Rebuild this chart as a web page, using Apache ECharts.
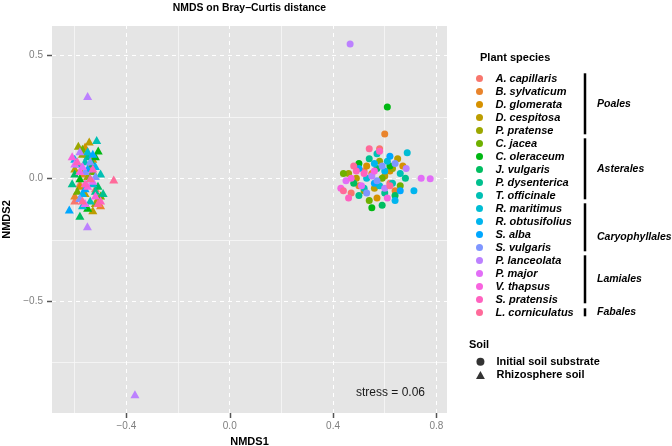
<!DOCTYPE html>
<html>
<head>
<meta charset="utf-8">
<script src="https://cdn.jsdelivr.net/npm/echarts@6/dist/echarts.min.js"></script>
<style>html,body{margin:0;padding:0;background:#fff}#c{width:672px;height:446px}</style>
</head>
<body>
<div id="c"></div>
<script>
// ---------------- data ----------------
const species = ['A. capillaris','B. sylvaticum','D. glomerata','D. cespitosa','P. pratense',
  'C. jacea','C. oleraceum','J. vulgaris','P. dysenterica','T. officinale',
  'R. maritimus','R. obtusifolius','S. alba','S. vulgaris',
  'P. lanceolata','P. major','V. thapsus','S. pratensis','L. corniculatus'];
const orders = ['Poales','Asterales','Caryophyllales','Lamiales','Fabales'];
const orderCounts = [5,5,4,4,1];
const soilTypes = ['Initial soil substrate','Rhizosphere soil'];
const xTicks = [-0.4, 0, 0.4, 0.8];
const yTicks = [-0.5, 0, 0.5];
const xMinor = [-0.6, -0.2, 0.2, 0.6];
const yMinor = [-0.75, -0.25, 0.25];
const stressValue = 0.06;
// NMDS scores, initial soil substrate (circles), per species
const initialSubstrate = [
  [[0.47,-0.06],[0.58,0.12],[0.62,-0.02],[0.52,0.03]],
  [[0.60,0.18],[0.55,0.02],[0.64,-0.05],[0.50,-0.03]],
  [[0.67,0.05],[0.57,-0.08],[0.53,0.05],[0.62,0.03]],
  [[0.65,0.08],[0.56,-0.04],[0.60,0.01],[0.49,0.00]],
  [[0.63,0.04],[0.52,-0.05],[0.58,0.07],[0.46,0.02]],
  [[0.44,0.02],[0.59,0.00],[0.66,-0.03],[0.54,-0.09]],
  [[0.61,0.29],[0.55,-0.12],[0.62,0.05],[0.50,0.06]],
  [[0.57,0.04],[0.64,-0.07],[0.48,-0.02],[0.59,-0.11]],
  [[0.68,0.00],[0.54,0.08],[0.60,-0.06],[0.50,-0.07]],
  [[0.57,0.10],[0.63,-0.02],[0.52,-0.04],[0.66,0.02]],
  [[0.687,0.104],[0.58,-0.03],[0.53,0.00],[0.61,0.07]],
  [[0.713,-0.05],[0.60,0.03],[0.56,0.06],[0.64,-0.09]],
  [[0.56,-0.02],[0.62,0.09],[0.50,0.04],[0.66,-0.05]],
  [[0.59,0.05],[0.53,-0.06],[0.64,0.06],[0.57,-0.01]],
  [[0.466,0.547],[0.683,0.04],[0.55,0.01],[0.60,-0.04]],
  [[0.741,0.00],[0.776,-0.002],[0.45,-0.01],[0.51,-0.03]],
  [[0.43,-0.04],[0.47,0.00],[0.56,0.03],[0.61,-0.08]],
  [[0.46,-0.08],[0.52,0.02],[0.58,0.11],[0.49,0.03]],
  [[0.44,-0.05],[0.54,0.12],[0.62,-0.03],[0.48,0.05]]
];
// NMDS scores, rhizosphere soil (triangles), per species
const rhizosphere = [
  [[-0.58,-0.02],[-0.54,0.05],[-0.60,-0.09],[-0.52,-0.04]],
  [[-0.60,-0.07],[-0.55,0.10],[-0.50,-0.11],[-0.57,0.02]],
  [[-0.56,0.13],[-0.58,-0.03],[-0.51,-0.08],[-0.53,0.08]],
  [[-0.544,0.15],[-0.60,0.04],[-0.53,-0.13],[-0.56,-0.06]],
  [[-0.586,0.133],[-0.57,0.10],[-0.52,-0.10],[-0.55,0.01]],
  [[-0.57,0.12],[-0.53,0.03],[-0.59,-0.05],[-0.50,-0.07]],
  [[-0.509,0.113],[-0.52,0.09],[-0.55,-0.12],[-0.58,0.00]],
  [[-0.58,-0.152],[-0.53,0.06],[-0.60,0.02],[-0.51,-0.03]],
  [[-0.55,0.09],[-0.52,-0.05],[-0.61,-0.02],[-0.49,-0.06]],
  [[-0.515,0.156],[-0.56,0.07],[-0.50,0.02],[-0.54,-0.09]],
  [[-0.55,0.11],[-0.59,0.06],[-0.53,-0.02],[-0.57,-0.11]],
  [[-0.60,0.08],[-0.54,0.00],[-0.57,-0.06],[-0.52,0.05]],
  [[-0.621,-0.127],[-0.55,0.04],[-0.56,-0.04],[-0.53,0.10]],
  [[-0.54,0.07],[-0.56,0.03],[-0.52,0.01],[-0.58,-0.08]],
  [[-0.55,0.335],[-0.551,-0.195],[-0.367,-0.879],[-0.58,0.11]],
  [[-0.60,0.06],[-0.56,-0.10],[-0.53,-0.01],[-0.57,0.05]],
  [[-0.61,0.09],[-0.55,-0.03],[-0.52,-0.07],[-0.58,0.03]],
  [[-0.59,0.07],[-0.50,-0.09],[-0.56,-0.02],[-0.53,0.04]],
  [[-0.449,-0.005],[-0.57,-0.09],[-0.51,-0.10],[-0.54,0.00]]
];

// ---------------- styling helpers ----------------
function hcl2hex(h, c, l) {
  const hr = h * Math.PI / 180;
  const u = c * Math.cos(hr), v = c * Math.sin(hr);
  const Xn = 95.047, Yn = 100, Zn = 108.883;
  const d = Xn + 15 * Yn + 3 * Zn;
  const un = 4 * Xn / d, vn = 9 * Yn / d;
  const Y = Yn * Math.pow((l + 16) / 116, 3);
  const up = u / (13 * l) + un, vp = v / (13 * l) + vn;
  const X = Y * 9 * up / (4 * vp);
  const Z = Y * (12 - 3 * up - 20 * vp) / (4 * vp);
  const lin = [
    ( 3.2404542 * X - 1.5371385 * Y - 0.4985314 * Z) / 100,
    (-0.9692660 * X + 1.8760108 * Y + 0.0415560 * Z) / 100,
    ( 0.0556434 * X - 0.2040259 * Y + 1.0572252 * Z) / 100
  ];
  return '#' + lin.map(x => {
    let g = x <= 0.0031308 ? 12.92 * x : 1.055 * Math.pow(x, 1 / 2.4) - 0.055;
    g = Math.max(0, Math.min(1, g));
    return Math.round(g * 255).toString(16).padStart(2, '0');
  }).join('');
}
// ggplot hue palette: hues = seq(15, 375, length = n+1)[1:n], c = 100, l = 65
const colors = species.map((s, i) => hcl2hex(15 + i * 360 / species.length, 100, 65));

const fmt = v => (Math.abs(v) < 1e-9 ? '0.0' : v.toFixed(1)).replace('-', '\u2212');
const FONT = 'Liberation Sans, Arial, sans-serif';
const X_MIN = -0.688, X_MAX = 0.841, Y_MIN = -0.955, Y_MAX = 0.62;
const G = {left: 52, top: 26, width: 395, height: 387};

const gridLines = [];
xMinor.forEach(v => gridLines.push({xAxis: v, lineStyle: {color: '#f7f7f7', width: 0.8, type: 'solid'}}));
yMinor.forEach(v => gridLines.push({yAxis: v, lineStyle: {color: '#f7f7f7', width: 0.8, type: 'solid'}}));
xTicks.forEach(v => gridLines.push({xAxis: v, lineStyle: {color: '#ffffff', width: 1, type: [4, 4]}}));
yTicks.forEach(v => gridLines.push({yAxis: v, lineStyle: {color: '#ffffff', width: 1, type: [4, 4]}}));

const series = [{
  type: 'scatter', name: '__grid', data: [], z: 1, silent: true,
  markLine: {silent: true, z: 1, symbol: 'none', label: {show: false}, animation: false, data: gridLines}
}];
species.forEach((s, i) => {
  const data = initialSubstrate[i].map(p => ({value: p, symbol: 'circle', symbolSize: 7}))
    .concat(rhizosphere[i].map(p => ({value: p, symbol: 'triangle', symbolSize: [9, 8]})));
  series.push({type: 'scatter', name: s, data: data, z: 3, itemStyle: {color: colors[i], opacity: 1}});
});
soilTypes.forEach(s => series.push({type: 'scatter', name: s, data: [], itemStyle: {color: '#000'}}));

// order brackets and annotation text
const graphics = [];
const rowTop = 78.3, rowStep = 13, barX = 585;
let start = 0;
const orderLabelShift = [0, 0, 10, 0, 0];
orders.forEach((o, k) => {
  const cnt = orderCounts[k];
  const y1 = rowTop + start * rowStep - 5, y2 = rowTop + (start + cnt - 1) * rowStep + 4;
  graphics.push({type: 'line', shape: {x1: barX, y1: cnt === 1 ? y1 + 1 : y1, x2: barX, y2: y2},
    style: {stroke: '#000', lineWidth: 2.5}});
  graphics.push({type: 'text', x: 597, y: (y1 + y2) / 2 + orderLabelShift[k],
    style: {text: o, font: 'italic bold 10.5px ' + FONT, fill: '#000', textVerticalAlign: 'middle'}});
  start += cnt;
});
graphics.push({type: 'text', x: 249.5, y: 8, style: {text: 'NMDS on Bray\u2212Curtis distance', font: 'bold 10.4px ' + FONT, fill: '#000', textAlign: 'center', textVerticalAlign: 'middle'}});
graphics.push({type: 'text', x: 480, y: 58, style: {text: 'Plant species', font: 'bold 11px ' + FONT, fill: '#000', textVerticalAlign: 'middle'}});
graphics.push({type: 'text', x: 469, y: 345, style: {text: 'Soil', font: 'bold 11px ' + FONT, fill: '#000', textVerticalAlign: 'middle'}});
graphics.push({type: 'text', x: 425, y: 393, style: {text: 'stress = ' + stressValue.toFixed(2), font: '12px ' + FONT, fill: '#1a1a1a', textAlign: 'right', textVerticalAlign: 'middle'}, z: 10});

const chart = echarts.init(document.getElementById('c'), null, {renderer: 'canvas'});
const baseOption = {
  animation: false,
  backgroundColor: '#ffffff',
  grid: Object.assign({show: true, backgroundColor: '#e5e5e5', borderWidth: 0, containLabel: false, outerBoundsMode: 'none'}, G),
  xAxis: {
    type: 'value', min: X_MIN, max: X_MAX, position: 'bottom',
    axisLine: {show: false, onZero: false},
    axisTick: {show: false},
    axisLabel: {customValues: xTicks, formatter: fmt, color: '#7f7f7f', fontSize: 10, fontFamily: FONT, margin: 8},
    splitLine: {show: false},
    name: 'NMDS1', nameLocation: 'middle', nameGap: 23,
    nameTextStyle: {fontWeight: 'bold', fontSize: 11, color: '#000', fontFamily: FONT}
  },
  yAxis: {
    type: 'value', min: Y_MIN, max: Y_MAX, position: 'left',
    axisLine: {show: false, onZero: false},
    axisTick: {show: false},
    axisLabel: {customValues: yTicks, formatter: fmt, color: '#7f7f7f', fontSize: 10, fontFamily: FONT, margin: 9},
    splitLine: {show: false},
    name: 'NMDS2', nameLocation: 'middle', nameGap: 39, nameRotate: 90,
    nameTextStyle: {fontWeight: 'bold', fontSize: 11, color: '#000', fontFamily: FONT}
  },
  legend: [{
    data: species, orient: 'vertical', left: 471, top: 67, itemWidth: 22, itemHeight: 7, itemGap: 0,
    icon: 'circle', selectedMode: false,
    textStyle: {fontStyle: 'italic', fontWeight: 'bold', fontSize: 11, color: '#000', fontFamily: FONT, lineHeight: 13}
  }, {
    data: [{name: soilTypes[0], icon: 'circle'}, {name: soilTypes[1], icon: 'path://M5,0 L10,9 L0,9 Z'}],
    orient: 'vertical', left: 471, top: 350, itemWidth: 22, itemHeight: 8, itemGap: 0, selectedMode: false,
    symbolKeepAspect: true,
    textStyle: {fontWeight: 'bold', fontSize: 11, color: '#000', fontFamily: FONT, lineHeight: 13.3}
  }],
  series: series
};
chart.setOption(baseOption);

// axis ticks placed through the chart's own axis scales
function px(axisKey, v, fallback) {
  let r;
  try { r = chart.convertToPixel(axisKey, v); } catch (e) { r = NaN; }
  return (typeof r === 'number' && isFinite(r)) ? r : fallback(v);
}
const xPx = v => px({xAxisIndex: 0}, v, t => G.left + (t - X_MIN) / (X_MAX - X_MIN) * G.width);
const yPx = v => px({yAxisIndex: 0}, v, t => G.top + (Y_MAX - t) / (Y_MAX - Y_MIN) * G.height);
const tickLen = 5;
const bottomY = G.top + G.height, leftX = G.left;
xTicks.forEach(v => {
  const x = Math.round(xPx(v)) + 0.5;
  graphics.push({type: 'rect', z: 50, shape: {x: x - 0.75, y: bottomY, width: 1.5, height: tickLen},
    style: {fill: '#555555'}});
});
yTicks.forEach(v => {
  const y = Math.round(yPx(v)) + 0.5;
  graphics.push({type: 'rect', z: 50, shape: {x: leftX - tickLen, y: y - 0.75, width: tickLen, height: 1.5},
    style: {fill: '#555555'}});
});
chart.setOption({graphic: {elements: graphics}});
</script>
</body>
</html>
